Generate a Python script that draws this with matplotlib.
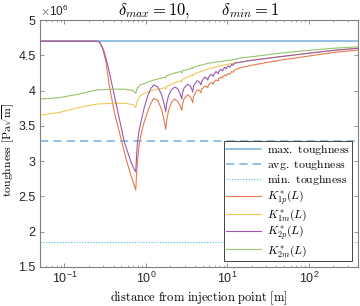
# Effective toughness K*(L) vs distance for a layered medium (delta_max=10, delta_min=1)

import numpy as np
import matplotlib.pyplot as plt
from matplotlib.ticker import FuncFormatter, LogLocator

plt.rcParams['font.family'] = ['Liberation Sans', 'DejaVu Sans']
plt.rcParams['mathtext.fontset'] = 'cm'

# values in units of 1e6 Pa*sqrt(m)
k_max = 4.70
k_avg = 3.28
k_min = 1.86
x_range = [0.05, 400]

# K*_1p (orange)
x_1p = [0.05, 0.25, 0.27, 0.293, 0.323, 0.354, 0.408, 0.47, 0.568, 0.654, 0.75,
        0.77, 0.80, 0.83, 0.90, 0.95, 1.05, 1.15, 1.25, 1.4, 1.55, 1.68, 1.75,
        1.8, 1.9, 2.05, 2.25, 2.45, 2.62, 2.75,
        2.82, 2.95, 3.25, 3.5, 3.65, 3.75,
        3.85, 4.25, 4.55, 4.75, 4.85, 5.25, 5.55, 5.75, 5.85, 6.25, 6.55, 6.75,
        6.85, 7.25, 7.75, 7.85, 8.25, 8.75, 8.85, 9.25, 9.75, 9.85, 10.25, 10.75,
        11.25, 11.75, 12.25, 14, 20, 44, 100, 200, 400]
k_1p = [4.70, 4.70, 4.69, 4.60, 4.41, 4.08, 3.70, 3.42, 3.04, 2.80, 2.59,
        2.85, 3.08, 3.25, 3.45, 3.55, 3.70, 3.82, 3.89, 3.86, 3.74, 3.57, 3.45,
        3.58, 3.72, 3.83, 3.88, 3.85, 3.79, 3.72,
        3.81, 3.89, 3.94, 3.91, 3.87, 3.83,
        3.92, 4.01, 4.00, 3.97, 4.02, 4.06, 4.06, 4.04, 4.08, 4.11, 4.11, 4.09,
        4.12, 4.15, 4.14, 4.17, 4.19, 4.18, 4.20, 4.22, 4.21, 4.23, 4.24, 4.23,
        4.27, 4.26, 4.29, 4.32, 4.36, 4.43, 4.49, 4.54, 4.575]

# K*_1m (yellow)
x_1m = [0.05, 0.086, 0.15, 0.25, 0.4, 0.55, 0.7, 0.75, 0.78, 0.85, 1.0, 1.25,
        1.7, 1.75, 1.8, 2.25, 2.7, 2.75, 2.8, 3.25, 3.7, 3.75, 3.8, 4.7, 6, 8,
        12.2, 14, 20, 44, 100, 200, 400]
k_1m = [3.65, 3.69, 3.76, 3.81, 3.82, 3.82, 3.80, 3.76, 3.85, 3.93, 3.97, 4.01,
        4.04, 4.02, 4.06, 4.11, 4.14, 4.12, 4.16, 4.19, 4.22, 4.21, 4.23, 4.27, 4.31, 4.35,
        4.39, 4.40, 4.43, 4.48, 4.53, 4.57, 4.60]

# K*_2p (purple)
x_2p = [0.05, 0.25, 0.267, 0.285, 0.307, 0.33, 0.354, 0.408, 0.47, 0.541, 0.654, 0.72, 0.75,
        0.77, 0.79, 0.83, 0.87, 0.95, 1.05, 1.15, 1.25, 1.4, 1.55, 1.68, 1.75,
        1.8, 1.9, 2.05, 2.25, 2.45, 2.62, 2.75,
        2.82, 2.95, 3.25, 3.5, 3.65, 3.75,
        3.85, 4.25, 4.55, 4.75, 4.85, 5.25, 5.55, 5.75, 5.85, 6.25, 6.55, 6.75,
        6.85, 7.25, 7.75, 7.85, 8.25, 8.75, 8.85, 9.25, 9.75, 9.85, 10.25, 10.75,
        11.25, 11.75, 12.25, 14, 20, 44, 100, 200, 400]
k_2p = [4.70, 4.70, 4.69, 4.64, 4.55, 4.42, 4.27, 3.94, 3.61, 3.28, 2.99, 2.88, 2.85,
        3.10, 3.28, 3.45, 3.56, 3.75, 3.92, 4.03, 4.08, 4.05, 3.95, 3.80, 3.70,
        3.82, 3.93, 4.01, 4.05, 4.03, 3.96, 3.88,
        3.97, 4.04, 4.09, 4.07, 4.02, 3.98,
        4.07, 4.14, 4.12, 4.08, 4.13, 4.19, 4.18, 4.15, 4.18, 4.23, 4.22, 4.20,
        4.23, 4.27, 4.24, 4.27, 4.30, 4.28, 4.30, 4.33, 4.31, 4.33, 4.35, 4.33,
        4.37, 4.36, 4.39, 4.40, 4.43, 4.48, 4.53, 4.57, 4.60]

# K*_2m (green)
x_2m = [0.05, 0.086, 0.15, 0.25, 0.4, 0.55, 0.7, 0.75, 0.78, 0.85, 1.0, 1.25,
        1.7, 1.75, 1.8, 2.25, 2.7, 2.75, 2.8, 3.25, 3.7, 3.75, 3.8, 4.7, 6, 8,
        12.2, 14, 20, 44, 100, 200, 400]
k_2m = [3.88, 3.90, 3.95, 4.01, 4.02, 4.02, 4.00, 3.96, 4.03, 4.08, 4.11, 4.15,
        4.19, 4.18, 4.21, 4.25, 4.27, 4.25, 4.28, 4.30, 4.32, 4.31, 4.33, 4.36, 4.39, 4.41,
        4.44, 4.46, 4.48, 4.53, 4.57, 4.60, 4.62]

fig = plt.figure(figsize=(3.6, 3.06), dpi=100)
ax = fig.add_axes([0.111, 0.1275, 0.883, 0.807])

ax.plot(x_range, [k_max, k_max], color='#80b6de', lw=1.2, label=r'$\mathrm{max.\ toughness}$')
ax.plot(x_range, [k_avg, k_avg], color='#80b6de', lw=1.2, ls=(0, (5, 3)), label=r'$\mathrm{avg.\ toughness}$')
ax.plot(x_range, [k_min, k_min], color='#4dbeee', lw=0.8, ls=(0, (1, 1.5)), label=r'$\mathrm{min.\ toughness}$')
ax.plot(x_1p, k_1p, color='#e57a4e', lw=0.8, label=r'$K^*_{1p}(L)$')
ax.plot(x_1m, k_1m, color='#f2c75a', lw=0.8, label=r'$K^*_{1m}(L)$')
ax.plot(x_2p, k_2p, color='#9a5aab', lw=0.8, label=r'$K^*_{2p}(L)$')
ax.plot(x_2m, k_2m, color='#98c46a', lw=0.8, label=r'$K^*_{2m}(L)$')

ax.set_xscale('log')
ax.set_xlim(x_range)
ax.set_ylim(1.5, 5)
ax.set_yticks(np.arange(1.5, 5.01, 0.5))
ax.yaxis.set_major_formatter(FuncFormatter(lambda v, p: f'{v:g}'))
ax.xaxis.set_minor_locator(LogLocator(base=10, subs=np.arange(2, 10), numticks=20))
ax.text(0.0, 1.006, r'$\times\mathdefault{10^{6}}$', transform=ax.transAxes,
        fontsize=8.5, color='#262626', ha='left', va='bottom')

ax.tick_params(which='both', direction='in', top=True, right=True,
               labelsize=9, colors='#262626', color='#808080')
ax.tick_params(which='major', length=3, width=0.6, pad=3)
ax.tick_params(which='minor', length=1.7, width=0.5)
for s in ax.spines.values():
    s.set_color('#808080')
    s.set_linewidth(0.8)

ax.set_title(r'$\delta_{max} = 10, \qquad \delta_{min} = 1$', fontsize=12, pad=2)
ax.set_xlabel(r'$\mathrm{distance\ from\ injection\ point\ [m]}$', fontsize=9, labelpad=2)
ax.set_ylabel(r'$\mathrm{toughness}\ [\mathrm{Pa}\sqrt{\mathrm{m}}]$', fontsize=8.5)
ax.yaxis.set_label_coords(-0.072, 0.476)

leg = ax.legend(loc='lower right', bbox_to_anchor=(1.0, 0.0), fontsize=8.5,
                fancybox=False, framealpha=1, edgecolor='#262626',
                handlelength=2.9, labelspacing=0.08, borderpad=0.2,
                borderaxespad=0.5, handletextpad=0.5)
leg.get_frame().set_linewidth(0.6)

fig.savefig('out.png', dpi=100)
